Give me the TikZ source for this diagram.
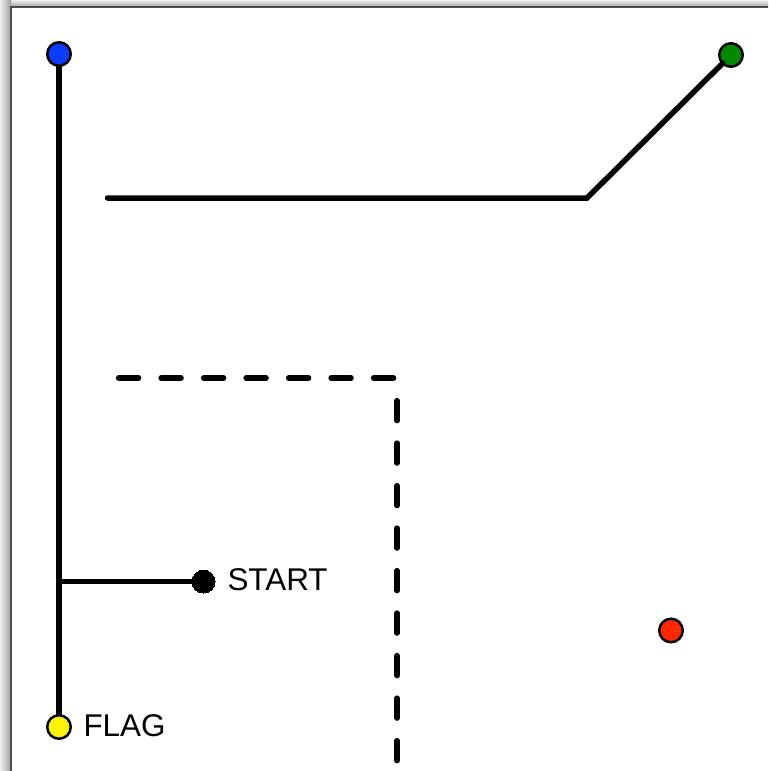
\documentclass[tikz,border=0pt]{standalone}
\usepackage{fontspec}
\setmainfont{Liberation Sans}
\usepackage{tikz}
\definecolor{playerblue}{RGB}{10,60,255}
\definecolor{goalgreen}{RGB}{0,138,0}
\definecolor{flagyellow}{RGB}{255,245,0}
\definecolor{enemyred}{RGB}{255,40,0}
\newcommand{\defaultmarkersize}{11.75pt}
\newcommand{\markersize}{\defaultmarkersize}
\tikzstyle{marker}=[draw, circle, line width=1.25pt, inner sep=0, outer sep=0, minimum size=\markersize]
\tikzstyle{dot}=[marker, fill=black, minimum size=11.5pt, line width=0pt]
\tikzstyle{wall}=[line width=2.75pt, line join=miter]
\tikzstyle{dashwall}=[wall, line width=2.6pt, line cap=round, dash pattern=on 10.1pt off 11.15pt]
\tikzstyle{tag}=[inner sep=0, outer sep=0, font=\fontsize{15.7}{18}\selectfont]
\tikzstyle{maze}=[x=0.5pt, y=-0.5pt,
                  % Keep the page the size of the screenshot.
                  execute at begin picture={\useasboundingbox (0,0) rectangle (768,771);}]
\begin{document}
\begin{tikzpicture}[maze]
        % Window frame and its shadow.
        \shade[left color=black!6, right color=black!38] (0,7) rectangle (11,771);
        \shade[top color=black!6, bottom color=black!38] (11,0) rectangle (768,7);
        \shade[left color=black!6, right color=black!38] (0,0) rectangle (11,7);
        \draw[black!70, line width=0.6pt] (11,771) -- (11,7) -- (768,7);
        \node[marker, fill=playerblue] (Blue) at (59,54) {};
        \node[marker, fill=goalgreen] (Green) at (731,55) {};
        \node[marker, fill=flagyellow] (Flag) at (59,727) {};
        \node[marker, fill=enemyred] (Red) at (671,630.5) {};
        \node[dot] (Start) at (203.5,581.5) {};
        \node[tag, anchor=base west] (FlagText) at (83.5,736) {FLAG};
        \node[tag, anchor=base west] (StartText) at (227.5,590) {START};
        \coordinate (Branch) at (59,581.5);
        \coordinate (TopLeft) at (107.5,198);
        \coordinate (TopBend) at (587,198);
        \coordinate (DashLeft) at (118.5,378);
        \coordinate (DashCorner) at (397,378);
        \coordinate (DashTop) at (397,400.5);
        \coordinate (DashEnd) at (397,790);
        \draw[wall] (Blue) -- (Flag);
        \draw[wall] (Branch) -- (Start);
        \draw[wall, line cap=round] (TopLeft) -- (TopBend) -- (Green);
        \draw[dashwall] (DashLeft) -- (DashCorner);
        \draw[dashwall] (DashTop) -- (DashEnd);
    \end{tikzpicture}
\end{document}
